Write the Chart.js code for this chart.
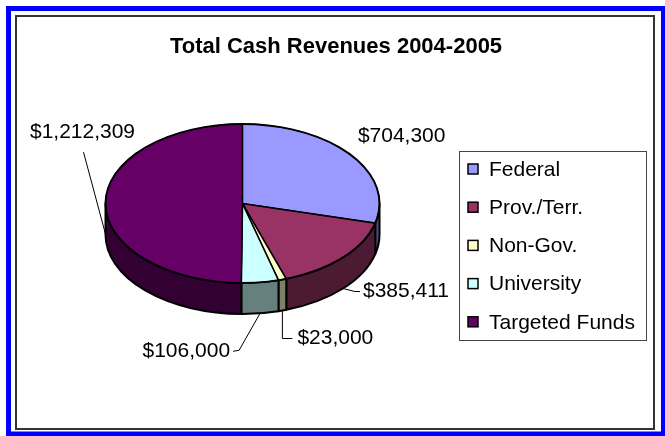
<!DOCTYPE html>
<html>
<head>
<meta charset="utf-8">
<title>Total Cash Revenues 2004-2005</title>
<script src="https://cdn.jsdelivr.net/npm/chart.js@4.4.0/dist/chart.umd.min.js"></script>
<style>
  html, body { margin: 0; padding: 0; background: #fff; }
  canvas { display: block; }
</style>
</head>
<body>
<canvas id="revenueChart" width="665" height="436"></canvas>
<script>
// chart data
const chartTitle = 'Total Cash Revenues 2004-2005';
const categories = ['Federal', 'Prov./Terr.', 'Non-Gov.', 'University', 'Targeted Funds'];
const revenues = [704300, 385411, 23000, 106000, 1212309];
const sliceColors = ['#9999FF', '#993366', '#FFFFCC', '#CCFFFF', '#660066'];

// where each value label sits, relative to the rim point at the slice middle
// line = leader line points relative to the text anchor
const labelPlacement = [
  { dx: 51, dy: -19, align: 'center', line: [] },
  { dx: 20, dy: 34, align: 'left', line: [[-8, 0], [-3, 0]] },
  { dx: 15, dy: 59, align: 'left', line: [[-15, 0], [-5, 0]] },
  { dx: -30, dy: 69, align: 'right', line: [[9, -1], [3, 0]] },
  { dx: -23, dy: -71, align: 'center', line: [[1, 20]] }
];

const FONT = '"Liberation Sans", Arial, sans-serif';
const TILT = 0.58;   // vertical squash of the pie
const DEPTH = 31;    // thickness of the pie side

function shade(hex, f) {
  const n = parseInt(hex.slice(1), 16);
  const r = Math.round(((n >> 16) & 255) * f);
  const g = Math.round(((n >> 8) & 255) * f);
  const b = Math.round((n & 255) * f);
  return 'rgb(' + r + ',' + g + ',' + b + ')';
}

function money(v) {
  return '$' + v.toLocaleString('en-US');
}

const pie3d = {
  id: 'pie3d',
  beforeDraw(chart) {
    const ctx = chart.ctx;
    ctx.save();
    ctx.fillStyle = '#fff';
    ctx.fillRect(0, 0, chart.width, chart.height);
    // outer blue frame + inner dark frame
    ctx.strokeStyle = '#0000FF';
    ctx.lineWidth = 5;
    ctx.strokeRect(8.5, 8.5, 655, 425.5);
    ctx.strokeStyle = '#333';
    ctx.lineWidth = 2;
    ctx.strokeRect(16, 16, 638, 413);
    // title
    ctx.fillStyle = '#000';
    ctx.font = 'bold 22px ' + FONT;
    ctx.textAlign = 'center';
    ctx.textBaseline = 'middle';
    ctx.fillText(chartTitle, 336, 47);
    ctx.restore();
  },
  beforeDatasetsDraw(chart) {
    const ctx = chart.ctx;
    const arcs = chart.getDatasetMeta(0).data;
    const cx = arcs[0].x, cy = arcs[0].y, rx = arcs[0].outerRadius;
    const ry = rx * TILT;
    // side walls, only the front half is visible
    ctx.save();
    arcs.forEach((arc, i) => {
      const a1 = Math.max(arc.startAngle, 0);
      const a2 = Math.min(arc.endAngle, Math.PI);
      if (a2 <= a1) return;
      ctx.beginPath();
      ctx.ellipse(cx, cy, rx, ry, 0, a1, a2);
      ctx.ellipse(cx, cy + DEPTH, rx, ry, 0, a2, a1, true);
      ctx.closePath();
      ctx.fillStyle = shade(sliceColors[i], 0.5);
      ctx.fill();
      ctx.lineWidth = 2;
      ctx.strokeStyle = '#000';
      ctx.lineJoin = 'round';
      ctx.stroke();
    });
    ctx.restore();
    // squash the top face drawn by chart.js
    ctx.save();
    ctx.translate(cx, cy);
    ctx.scale(1, TILT);
    ctx.translate(-cx, -cy);
  },
  afterDatasetsDraw(chart) {
    const ctx = chart.ctx;
    ctx.restore();
    const arcs = chart.getDatasetMeta(0).data;
    const cx = arcs[0].x, cy = arcs[0].y, rx = arcs[0].outerRadius;
    const ry = rx * TILT;

    // crisp outline of the top face
    ctx.save();
    ctx.strokeStyle = '#000';
    ctx.lineWidth = 2;
    ctx.beginPath();
    ctx.ellipse(cx, cy, rx, ry, 0, 0, Math.PI * 2);
    ctx.stroke();
    ctx.lineWidth = 1.6;
    arcs.forEach(arc => {
      ctx.beginPath();
      ctx.moveTo(cx, cy);
      ctx.lineTo(cx + rx * Math.cos(arc.startAngle), cy + ry * Math.sin(arc.startAngle));
      ctx.stroke();
    });

    // value labels with leader lines
    ctx.font = '21px ' + FONT;
    ctx.fillStyle = '#000';
    ctx.textBaseline = 'middle';
    ctx.lineWidth = 1;
    arcs.forEach((arc, i) => {
      const mid = (arc.startAngle + arc.endAngle) / 2;
      const px = cx + rx * Math.cos(mid);
      const py = cy + ry * Math.sin(mid);
      const p = labelPlacement[i];
      const tx = px + p.dx, ty = py + p.dy;
      if (p.line.length) {
        ctx.beginPath();
        ctx.moveTo(px, py + DEPTH);
        p.line.forEach(pt => ctx.lineTo(tx + pt[0], ty + pt[1]));
        ctx.stroke();
      }
      ctx.textAlign = p.align;
      ctx.fillText(money(revenues[i]), tx, ty);
    });

    // legend box
    ctx.strokeStyle = '#444';
    ctx.lineWidth = 1;
    ctx.strokeRect(459.5, 151.5, 187, 189);
    ctx.textAlign = 'left';
    categories.forEach((name, i) => {
      const y = 169 + i * 38.2;
      ctx.fillStyle = sliceColors[i];
      ctx.fillRect(468, y - 5, 10, 10);
      ctx.strokeStyle = '#000';
      ctx.lineWidth = 1.5;
      ctx.strokeRect(468, y - 5, 10, 10);
      ctx.fillStyle = '#000';
      ctx.fillText(name, 489, y + 1);
    });
    ctx.restore();
  }
};

const ctx = document.getElementById('revenueChart').getContext('2d');
const revenueChart = new Chart(ctx, {
  type: 'pie',
  data: {
    labels: categories,
    datasets: [{
      data: revenues,
      backgroundColor: sliceColors,
      borderColor: '#000',
      borderWidth: 1,
      clip: false
    }]
  },
  options: {
    responsive: false,
    animation: false,
    events: [],
    radius: 137,
    layout: { padding: { left: 100, right: 280, top: 60, bottom: 89 } },
    plugins: {
      legend: { display: false },
      title: { display: false },
      tooltip: { enabled: false }
    }
  },
  plugins: [pie3d]
});
</script>
</body>
</html>
